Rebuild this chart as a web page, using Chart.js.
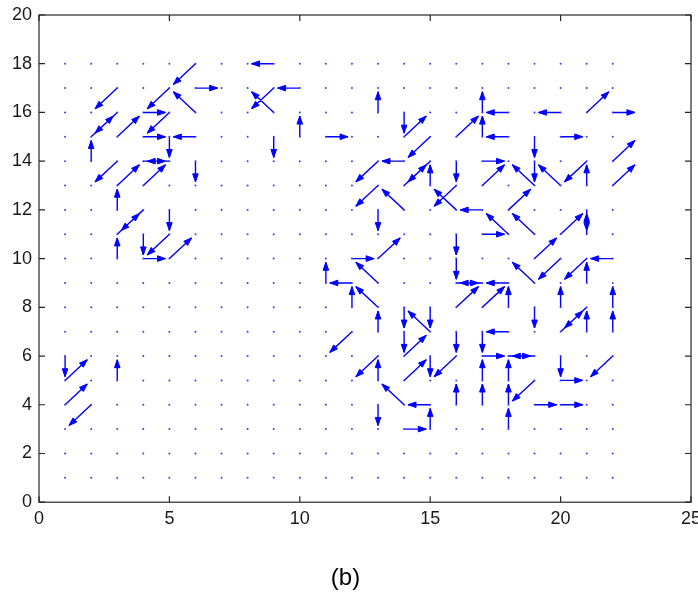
<!DOCTYPE html>
<html>
<head>
<meta charset="utf-8">
<script src="https://cdn.jsdelivr.net/npm/chart.js@4.4.1/dist/chart.umd.min.js"></script>
<style>
    html, body { margin: 0; padding: 0; background: #ffffff; }
    #wrap { width: 698px; height: 594px; }
</style>
</head>
<body>
<div id="wrap"><canvas id="quiverChart" width="698" height="594"></canvas></div>
<script>
// puntos de la malla
var gridX = [1, 2, 3, 4, 5, 6, 7, 8, 9, 10, 11, 12, 13, 14, 15, 16, 17, 18, 19, 20, 21, 22];
var gridY = [1, 2, 3, 4, 5, 6, 7, 8, 9, 10, 11, 12, 13, 14, 15, 16, 17, 18];

// flechas: origen (x, y) y direccion (u, v)
var arrowX = [6, 5, 6, 6, 3, 3, 2, 3, 4, 5, 4, 6, 5, 2, 4, 5, 3, 3, 4, 6,
              9, 9, 9, 10, 10, 9, 11, 13, 14, 14, 15, 14, 13, 14, 15, 15, 16, 16,
              17, 17, 18, 18, 20, 21, 22, 19, 20, 22, 17, 19, 19, 20, 21, 21, 22, 17,
              3, 3, 4, 3, 5, 4, 5, 4, 5,
              13, 14, 16, 16, 17, 13, 18, 17, 16, 16, 13, 12, 13, 11, 12,
              18, 19, 20, 21, 21, 19, 22, 19, 20, 21, 21,
              1, 1, 3, 1, 2,
              12, 13, 13, 14, 15, 15, 14, 14, 16, 12, 13, 13, 14, 15, 16, 16, 14, 15, 15, 14, 13,
              16, 17, 18, 18, 16, 17, 20, 22, 22, 19, 20, 21, 21, 18, 17, 17, 18, 19,
              17, 17, 18, 18, 18, 19, 20, 20, 22, 19, 20];
var arrowY = [18, 17, 16, 17, 17, 16, 15, 15, 16, 16, 15, 15, 15, 14, 14, 14, 14, 13, 13, 14,
              18, 17, 16, 17, 15, 15, 15, 16, 16, 15, 15, 14, 14, 13, 14, 13, 14, 15,
              16, 15, 16, 15, 16, 16, 16, 15, 15, 14, 14, 13, 14, 13, 14, 13, 13, 13,
              12, 11, 12, 10, 12, 11, 11, 10, 10,
              13, 12, 12, 13, 12, 12, 11, 11, 11, 10, 10, 10, 9, 9, 9,
              12, 11, 11, 12, 11, 10, 10, 9, 10, 10, 9,
              6, 5, 5, 4, 4,
              8, 8, 7, 8, 8, 7, 7, 6, 7, 7, 6, 5, 5, 6, 6, 4, 4, 4, 3, 3, 4,
              9, 9, 9, 8, 8, 8, 8, 8, 7, 8, 7, 8, 7, 7, 7, 6, 6, 6,
              5, 4, 5, 4, 3, 5, 6, 5, 6, 4, 4];
var arrowU = [-1, -1, -1, 1, -1, -1, 1, 1, 1, -1, 1, -1, 0, 0, 1, -1, -1, 1, 1, 0,
              -1, -1, -1, -1, 0, 0, 1, 0, 0, 1, -1, -1, -1, 1, -1, 0, 0, 1,
              0, 0, -1, -1, -1, 1, 1, 0, 1, 1, 1, -1, 0, -1, -1, 0, 1, 1,
              0, 1, -1, 0, 0, 0, -1, 1, 1,
              -1, -1, -1, -1, -1, 0, -1, 1, 0, 0, 1, 1, -1, 0, -1,
              1, -1, 1, 0, 0, 1, -1, -1, -1, -1, 0,
              0, 1, 0, 1, -1,
              0, -1, 0, 0, 0, -1, 0, 1, 0, -1, -1, 0, 1, 0, -1, 0, -1, -1, 0, 1, 0,
              1, -1, -1, 0, 1, 1, 0, 0, 0, 0, 1, -1, 0, -1, 0, 1, 1, -1,
              0, 0, 0, 0, 0, -1, 0, 1, -1, 1, 1];
var arrowV = [-1, -1, 1, 0, -1, -1, 1, 1, 0, -1, 0, 0, -1, 1, 0, 0, -1, 1, 1, -1,
              0, -1, 1, 0, 1, -1, 0, 1, -1, 1, -1, 0, -1, 1, -1, 1, -1, 1,
              1, 1, 0, 0, 0, 1, 0, -1, 0, 1, 0, 1, -1, 1, -1, 1, 1, 1,
              1, 1, -1, 1, -1, -1, -1, 0, 1,
              -1, 1, 1, -1, 0, -1, 1, 0, -1, -1, 1, 0, 1, 1, 0,
              1, 1, 1, -1, 1, 1, 0, 1, -1, -1, 1,
              -1, 1, 1, 1, -1,
              1, 1, 1, -1, -1, 1, -1, 1, -1, -1, -1, 1, 1, -1, -1, 1, 1, 0, 1, 0, -1,
              0, 0, 0, 1, 1, 1, 1, 1, 1, -1, 1, -1, 1, 0, -1, 0, 0, 0,
              1, 1, 1, 1, 1, -1, -1, 0, -1, 0, 0];

var xTicks = [0, 5, 10, 15, 20, 25];
var yTicks = [0, 2, 4, 6, 8, 10, 12, 14, 16, 18, 20];
var caption = "(b)";

var escala = 0.85;   // largo de flecha respecto a la malla
var azul = "#0000ff";
var ejeColor = "#262626";

// puntos de la malla
function getMalla() {
    var puntos = [];
    for (var i = 0; i < gridY.length; i++) {
        for (var j = 0; j < gridX.length; j++) {
            puntos.push({x: gridX[j], y: gridY[i]});
        }
    }
    return puntos;
}

// cuerpos de las flechas, separados con huecos
function getCuerpos() {
    var data = [];
    for (var i = 0; i < arrowX.length; i++) {
        data.push({x: arrowX[i], y: arrowY[i]});
        data.push({x: arrowX[i] + escala * arrowU[i], y: arrowY[i] + escala * arrowV[i]});
        data.push({x: arrowX[i], y: null});
    }
    return data;
}

// puntas de flecha
var cabezas = {
    id: "cabezas",
    afterDatasetsDraw: function (chart) {
        var ctx = chart.ctx;
        var sx = chart.scales.x, sy = chart.scales.y;
        ctx.save();
        ctx.fillStyle = azul;
        ctx.strokeStyle = azul;
        ctx.lineWidth = 1;
        for (var i = 0; i < arrowX.length; i++) {
            var x0 = sx.getPixelForValue(arrowX[i]);
            var y0 = sy.getPixelForValue(arrowY[i]);
            var x1 = sx.getPixelForValue(arrowX[i] + escala * arrowU[i]);
            var y1 = sy.getPixelForValue(arrowY[i] + escala * arrowV[i]);
            var dx = x1 - x0, dy = y1 - y0;
            var len = Math.sqrt(dx * dx + dy * dy);
            if (len === 0) continue;
            dx /= len; dy /= len;
            var hl = 8, hw = 2.8;
            ctx.beginPath();
            ctx.moveTo(x1, y1);
            ctx.lineTo(x1 - hl * dx - hw * dy, y1 - hl * dy + hw * dx);
            ctx.lineTo(x1 - hl * dx + hw * dy, y1 - hl * dy - hw * dx);
            ctx.closePath();
            ctx.fill();
            ctx.stroke();
        }
        ctx.restore();
    },
    afterDraw: function (chart) {
        // marco y marcas hacia adentro
        var ctx = chart.ctx;
        var a = chart.chartArea;
        var sx = chart.scales.x, sy = chart.scales.y;
        var t = 6;
        ctx.save();
        ctx.strokeStyle = ejeColor;
        ctx.lineWidth = 1.2;
        ctx.strokeRect(a.left, a.top, a.right - a.left, a.bottom - a.top);
        ctx.beginPath();
        for (var i = 0; i < xTicks.length; i++) {
            var px = sx.getPixelForValue(xTicks[i]);
            ctx.moveTo(px, a.bottom); ctx.lineTo(px, a.bottom - t);
            ctx.moveTo(px, a.top); ctx.lineTo(px, a.top + t);
        }
        for (var j = 0; j < yTicks.length; j++) {
            var py = sy.getPixelForValue(yTicks[j]);
            ctx.moveTo(a.left, py); ctx.lineTo(a.left + t, py);
            ctx.moveTo(a.right, py); ctx.lineTo(a.right - t, py);
        }
        ctx.stroke();
        ctx.restore();
    }
};

function sinPadding(scale) {
    scale.paddingLeft = 0;
    scale.paddingRight = 0;
    scale.paddingTop = 0;
    scale.paddingBottom = 0;
}

var fuente = {family: "'Liberation Sans', Arial, sans-serif", size: 18};

var quiverChart = new Chart(document.getElementById("quiverChart"), {
    type: "scatter",
    data: {
        datasets: [{
            label: "malla",
            data: getMalla(),
            pointRadius: 1,
            pointHoverRadius: 1,
            pointBorderWidth: 0,
            pointBackgroundColor: "#3a3aff",
            showLine: false
        }, {
            label: "flechas",
            data: getCuerpos(),
            showLine: true,
            spanGaps: false,
            borderColor: azul,
            borderWidth: 1.4,
            pointRadius: 0,
            fill: false
        }]
    },
    options: {
        responsive: false,
        animation: false,
        devicePixelRatio: 1,
        layout: {padding: {top: 15, right: 7, left: 0, bottom: 0}},
        plugins: {
            legend: {display: false},
            tooltip: {enabled: false},
            title: {
                display: true,
                text: caption,
                position: "bottom",
                color: "#000000",
                font: {family: "'Liberation Sans', Arial, sans-serif", size: 24, weight: "normal"},
                padding: {top: 0, bottom: 1}
            }
        },
        scales: {
            x: {
                type: "linear",
                min: 0,
                max: 25,
                afterBuildTicks: function (scale) {
                    scale.ticks = xTicks.map(function (v) { return {value: v}; });
                },
                afterFit: function (scale) {
                    scale.height = 62;
                    sinPadding(scale);
                },
                grid: {display: true, drawOnChartArea: false, drawTicks: false},
                border: {display: false},
                ticks: {autoSkip: false, maxRotation: 0, padding: 6, color: "#1a1a1a", font: fuente}
            },
            y: {
                type: "linear",
                min: 0,
                max: 20,
                afterBuildTicks: function (scale) {
                    scale.ticks = yTicks.map(function (v) { return {value: v}; });
                },
                afterFit: function (scale) {
                    scale.width = 39;
                    sinPadding(scale);
                },
                grid: {display: true, drawOnChartArea: false, drawTicks: false},
                border: {display: false},
                ticks: {autoSkip: false, padding: 7, color: "#1a1a1a", font: fuente}
            }
        }
    },
    plugins: [cabezas]
});
</script>
</body>
</html>
